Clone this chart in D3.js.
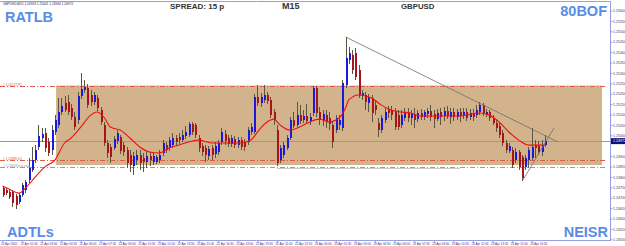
<!DOCTYPE html>
<html><head><meta charset="utf-8">
<script src="https://cdn.jsdelivr.net/npm/d3@7"></script>
<style>body{margin:0;background:#fff;overflow:hidden}svg{display:block}</style>
</head><body><svg id="c" width="625" height="246"></svg>
<script>
// ---- data (GBPUSD M15) : [open, high, low, close]
const candles = [
[1.24746,1.24756,1.24703,1.24713],[1.24737,1.24746,1.24713,1.24722],[1.24727,1.24737,1.24694,1.24703],[1.24727,1.24737,1.24655,1.24674],
[1.24708,1.24718,1.24645,1.24665],[1.24679,1.24722,1.24670,1.24713],[1.24713,1.24771,1.24703,1.24761],[1.24737,1.24785,1.24722,1.24775],
[1.24785,1.24891,1.24771,1.24843],[1.24833,1.24944,1.24823,1.24881],[1.24881,1.24953,1.24867,1.24929],[1.24944,1.25049,1.24929,1.24997],
[1.24987,1.25035,1.24968,1.25006],[1.25011,1.25035,1.24920,1.24939],[1.24968,1.24987,1.24901,1.24915],[1.24929,1.25049,1.24905,1.25025],
[1.25016,1.25097,1.25001,1.25073],[1.25049,1.25179,1.25035,1.25112],[1.25112,1.25179,1.25097,1.25140],[1.25155,1.25189,1.25112,1.25121],
[1.25160,1.25194,1.25097,1.25112],[1.25131,1.25150,1.25073,1.25088],[1.25088,1.25112,1.25025,1.25040],[1.25073,1.25208,1.25054,1.25189],
[1.25189,1.25300,1.25174,1.25222],[1.25218,1.25266,1.25203,1.25232],[1.25227,1.25246,1.25131,1.25145],[1.25194,1.25218,1.25140,1.25160],
[1.25160,1.25208,1.25145,1.25194],[1.25179,1.25194,1.25116,1.25131],[1.25121,1.25136,1.25049,1.25064],[1.25049,1.25064,1.24948,1.24963],
[1.24963,1.24977,1.24891,1.24915],[1.24944,1.24958,1.24867,1.24896],[1.24939,1.24997,1.24929,1.24982],[1.24972,1.25025,1.24958,1.25011],
[1.24992,1.25001,1.24910,1.24925],[1.24953,1.24968,1.24901,1.24920],[1.24929,1.24944,1.24843,1.24867],[1.24905,1.24929,1.24823,1.24857],
[1.24852,1.24920,1.24809,1.24901],[1.24881,1.24929,1.24857,1.24905],[1.24905,1.24929,1.24833,1.24867],[1.24891,1.24915,1.24823,1.24872],
[1.24872,1.24920,1.24843,1.24901],[1.24901,1.24920,1.24852,1.24881],[1.24872,1.24915,1.24857,1.24901],[1.24872,1.24905,1.24862,1.24896],
[1.24881,1.24929,1.24867,1.24905],[1.24915,1.24977,1.24901,1.24963],[1.24953,1.24968,1.24915,1.24929],[1.24939,1.24992,1.24925,1.24977],
[1.24953,1.25011,1.24939,1.24987],[1.24987,1.25001,1.24948,1.24968],[1.24992,1.25011,1.24958,1.24977],[1.24977,1.25025,1.24968,1.25001],
[1.24997,1.25045,1.24982,1.25016],[1.25001,1.25064,1.24992,1.25054],[1.25054,1.25064,1.25001,1.25016],[1.25049,1.25059,1.24987,1.25001],
[1.24987,1.25001,1.24920,1.24939],[1.24948,1.24963,1.24901,1.24920],[1.24939,1.24953,1.24872,1.24905],[1.24901,1.24948,1.24881,1.24934],
[1.24939,1.24953,1.24881,1.24905],[1.24910,1.24968,1.24891,1.24948],[1.24920,1.24977,1.24905,1.24963],[1.24968,1.25035,1.24953,1.25016],
[1.25006,1.25025,1.24953,1.24972],[1.24987,1.25001,1.24944,1.24958],[1.24958,1.25001,1.24944,1.24987],[1.24982,1.24997,1.24939,1.24953],
[1.24953,1.24992,1.24939,1.24977],[1.24977,1.24992,1.24929,1.24944],[1.24968,1.24982,1.24925,1.24944],[1.24968,1.25040,1.24953,1.25025],
[1.25016,1.25059,1.25001,1.25040],[1.25016,1.25199,1.25006,1.25184],[1.25184,1.25242,1.25140,1.25155],[1.25155,1.25203,1.25136,1.25184],
[1.25170,1.25242,1.25155,1.25194],[1.25194,1.25208,1.25150,1.25165],[1.25170,1.25184,1.25083,1.25097],[1.25112,1.25126,1.25049,1.25073],
[1.25025,1.25049,1.24852,1.24867],[1.24881,1.24953,1.24867,1.24939],[1.24905,1.24968,1.24891,1.24953],[1.24939,1.25001,1.24929,1.24987],
[1.24987,1.25088,1.24977,1.25073],[1.25073,1.25112,1.25035,1.25045],[1.25049,1.25160,1.25040,1.25097],[1.25097,1.25145,1.25054,1.25069],
[1.25073,1.25121,1.25059,1.25093],[1.25093,1.25150,1.25054,1.25069],[1.25069,1.25107,1.25049,1.25088],[1.25107,1.25237,1.25093,1.25227],
[1.25227,1.25237,1.25088,1.25107],[1.25112,1.25136,1.25049,1.25073],[1.25069,1.25121,1.25045,1.25102],[1.25097,1.25121,1.25035,1.25064],
[1.25083,1.25112,1.25025,1.25054],[1.25049,1.25069,1.24939,1.24968],[1.25025,1.25097,1.25011,1.25083],[1.25049,1.25097,1.25025,1.25073],
[1.25035,1.25266,1.25021,1.25251],[1.25242,1.25473,1.25227,1.25371],[1.25362,1.25425,1.25343,1.25395],[1.25386,1.25410,1.25295,1.25314],
[1.25395,1.25420,1.25266,1.25280],[1.25314,1.25338,1.25179,1.25194],[1.25189,1.25218,1.25170,1.25203],[1.25194,1.25208,1.25121,1.25160],
[1.25155,1.25199,1.25112,1.25184],[1.25179,1.25194,1.25064,1.25107],[1.25145,1.25170,1.25097,1.25121],[1.25059,1.25083,1.24992,1.25025],
[1.25025,1.25097,1.25011,1.25083],[1.25073,1.25131,1.25059,1.25112],[1.25121,1.25140,1.25083,1.25107],[1.25121,1.25140,1.25073,1.25097],
[1.25112,1.25131,1.25025,1.25040],[1.25097,1.25121,1.25025,1.25040],[1.25049,1.25121,1.25035,1.25097],[1.25083,1.25131,1.25069,1.25107],
[1.25107,1.25131,1.25064,1.25083],[1.25083,1.25121,1.25049,1.25102],[1.25102,1.25131,1.25035,1.25073],[1.25078,1.25121,1.25064,1.25107],
[1.25107,1.25126,1.25073,1.25088],[1.25088,1.25121,1.25073,1.25112],[1.25102,1.25131,1.25083,1.25116],[1.25116,1.25145,1.25069,1.25088],
[1.25102,1.25121,1.25035,1.25078],[1.25078,1.25126,1.25069,1.25107],[1.25112,1.25131,1.25049,1.25088],[1.25093,1.25136,1.25069,1.25116],
[1.25116,1.25140,1.25078,1.25093],[1.25088,1.25131,1.25054,1.25112],[1.25112,1.25131,1.25069,1.25088],[1.25088,1.25126,1.25073,1.25112],
[1.25112,1.25131,1.25064,1.25093],[1.25093,1.25131,1.25078,1.25112],[1.25112,1.25131,1.25069,1.25083],[1.25088,1.25126,1.25073,1.25107],
[1.25107,1.25126,1.25069,1.25088],[1.25097,1.25145,1.25083,1.25121],[1.25112,1.25160,1.25097,1.25145],[1.25145,1.25155,1.25093,1.25107],
[1.25102,1.25126,1.25088,1.25112],[1.25112,1.25121,1.25069,1.25083],[1.25083,1.25097,1.25049,1.25059],[1.25059,1.25073,1.25016,1.25035],
[1.25045,1.25059,1.24987,1.25001],[1.25011,1.25025,1.24948,1.24963],[1.24963,1.24977,1.24915,1.24929],[1.24925,1.24963,1.24915,1.24948],
[1.24929,1.24944,1.24843,1.24857],[1.24881,1.24939,1.24867,1.24920],[1.24920,1.24929,1.24833,1.24848],[1.24896,1.24905,1.24780,1.24795],
[1.24848,1.24905,1.24833,1.24891],[1.24881,1.24944,1.24843,1.24929],[1.24891,1.25035,1.24881,1.24944],[1.24953,1.24977,1.24891,1.24939],
[1.24948,1.24972,1.24905,1.24920],[1.24920,1.24977,1.24901,1.24953],[1.24953,1.25001,1.24944,1.24972]
];
// moving average read at selected bars
const maBars = [0,2,5,7,10,13,16,19,21,24,27,29,31,33,36,39,42,45,48,51,54,57,60,64,67,73,76,79,82,83,85,88,91,94,97,100,103,105,106,109,113,116,119,122,125,128,134,140,146,149,152,155,158,161,163,166];
const maValues = [1.24756,1.24742,1.24722,1.24746,1.24799,1.24848,1.24881,1.24963,1.24987,1.25040,1.25097,1.25112,1.25088,1.25040,1.25025,1.24987,1.24944,1.24920,1.24915,1.24939,1.24953,1.24968,1.24977,1.24963,1.24963,1.24963,1.24977,1.25035,1.25073,1.25078,1.25049,1.25025,1.25040,1.25064,1.25078,1.25064,1.25083,1.25131,1.25170,1.25194,1.25179,1.25145,1.25121,1.25112,1.25107,1.25093,1.25093,1.25093,1.25107,1.25097,1.25064,1.25016,1.24977,1.24953,1.24953,1.24953];
const priceTicks = [1.2560,1.2555,1.2550,1.2545,1.2540,1.2535,1.2530,1.2525,1.2520,1.2515,1.2510,1.2505,1.2500,1.2490,1.2485,1.2480,1.2475,1.2470,1.2465,1.2460,1.2455,1.2450];
const timeBars = [0,6,12,18,24,30,36,42,48,54,60,66,72,78,84,90,96,102,108,114,120,126,132,138,144,150,156,162];
const timeLabels = ["22 Apr 2020","22 Apr 01:30","22 Apr 03:00","22 Apr 04:30","22 Apr 06:00","22 Apr 07:30","22 Apr 09:00","22 Apr 10:30","22 Apr 12:00","22 Apr 13:30","22 Apr 15:00","22 Apr 16:30","22 Apr 18:00","22 Apr 19:30","22 Apr 21:00","22 Apr 22:30","23 Apr 00:00","23 Apr 01:30","23 Apr 03:00","23 Apr 04:30","23 Apr 06:00","23 Apr 07:30","23 Apr 09:00","23 Apr 10:30","23 Apr 12:00","23 Apr 13:30","23 Apr 15:00","23 Apr 16:30"];
const zoneBars = [16.4, 183.5];
const zonePrices = [1.25239, 1.24857];
const levelPrices = [1.25237, 1.24880, 1.24848];
const levelColors = ["#e05a4a", "#e05a4a", "#9a9a9a"];
const levelTexts = ["# 1.25237 R1", "# 1.24880 S1", "# 1.24848 buy stop"];
const trendA = [[105, 1.25473], [170, 1.24968]];
const trendB = [[159.3, 1.24785], [168.8, 1.25035]];
const lastPrice = 1.24972;
const headerText = "GBPUSD,M15  1.24953 1.25001 1.24944 1.24972";

// ---- drawing
const svg = d3.select('#c');
const W = 625, H = 246, axisX = 610, axisY = 240;
const x = d3.scaleLinear().domain([0, 166]).range([2.5, 2.5 + 166 * 3.267]);
const y = d3.scaleLinear().domain([1.2450, 1.2560]).range([239.3, 10.5]);

svg.append('rect').attr('width', W).attr('height', H).attr('fill', '#fff');
svg.append('defs').append('clipPath').attr('id', 'pl').append('rect')
  .attr('x', 0).attr('y', 2).attr('width', axisX).attr('height', axisY - 2);
const plot = svg.append('g').attr('clip-path', 'url(#pl)');

// zone
plot.append('rect')
  .attr('x', x(zoneBars[0])).attr('y', y(zonePrices[0]))
  .attr('width', x(zoneBars[1]) - x(zoneBars[0]))
  .attr('height', y(zonePrices[1]) - y(zonePrices[0]))
  .attr('fill', '#d3b38b');

// current price line
plot.append('line').attr('x1', 0).attr('x2', axisX)
  .attr('y1', Math.round(y(lastPrice)) + 0.5).attr('y2', Math.round(y(lastPrice)) + 0.5)
  .attr('stroke', '#a09888').attr('stroke-width', 1);

// levels
levelPrices.forEach((p, k) => {
  const yy = Math.round(y(p)) + 0.5;
  plot.append('line').attr('x1', 0).attr('x2', 606).attr('y1', yy).attr('y2', yy)
    .attr('stroke', levelColors[k]).attr('stroke-width', 1).attr('stroke-dasharray', '5,2,1,2');
  svg.append('text').attr('x', 3).attr('y', yy - 1).text(levelTexts[k])
    .attr('font-family', 'Arial, Liberation Sans, sans-serif').attr('font-size', 3.2)
    .attr('fill', levelColors[k]);
});
plot.append('line').attr('x1', x(84)).attr('x2', x(140))
  .attr('y1', Math.round(y(levelPrices[2])) + 1.5).attr('y2', Math.round(y(levelPrices[2])) + 1.5)
  .attr('stroke', '#c8c8c8').attr('stroke-width', 1);

// candles
const cg = plot.append('g').attr('shape-rendering', 'crispEdges');
candles.forEach((c, i) => {
  const [o, h, l, cl] = c;
  const cx = Math.round(x(i));
  cg.append('line').attr('x1', cx + 0.5).attr('x2', cx + 0.5)
    .attr('y1', y(h)).attr('y2', y(l)).attr('stroke', '#5b5640').attr('stroke-width', 1);
  const top = y(Math.max(o, cl)), bot = y(Math.min(o, cl));
  const up = cl >= o;
  cg.append('rect').attr('x', cx - 0.5).attr('width', 2)
    .attr('y', top).attr('height', Math.max(1, bot - top))
    .attr('fill', up ? '#1a1adb' : '#a5161a');
});

// moving average
plot.append('path')
  .datum(maBars.map((b, k) => [b, maValues[k]]))
  .attr('d', d3.line().x(d => x(d[0])).y(d => y(d[1])).curve(d3.curveMonotoneX))
  .attr('fill', 'none').attr('stroke', '#f01010').attr('stroke-width', 1.1);

// trendlines
[trendA, trendB].forEach(t => {
  plot.append('line').attr('x1', x(t[0][0])).attr('y1', y(t[0][1]))
    .attr('x2', x(t[1][0])).attr('y2', y(t[1][1]))
    .attr('stroke', '#6e6e6e').attr('stroke-width', 0.8);
});

// frame
const frameCol = '#9c9ce0';
svg.append('line').attr('x1', 0).attr('x2', axisX).attr('y1', 1.5).attr('y2', 1.5).attr('stroke', frameCol);

// right axis
const ya = svg.append('g').attr('transform', `translate(${axisX + 0.5},0)`)
  .call(d3.axisRight(y).tickValues(priceTicks).tickSize(2).tickFormat(d3.format('.5f')));
ya.select('.domain').attr('stroke', frameCol).attr('d', `M0,1V${axisY + 1}`);
ya.selectAll('.tick line').attr('stroke', frameCol);
ya.selectAll('.tick text').attr('font-size', 3.6).attr('fill', '#3a3a70')
  .attr('font-family', 'Arial, Liberation Sans, sans-serif').attr('x', 2.5);

// bottom axis
const xa = svg.append('g').attr('transform', `translate(0,${axisY + 0.5})`)
  .call(d3.axisBottom(x).tickValues(timeBars).tickSize(2).tickFormat((d, k) => timeLabels[k]));
xa.select('.domain').attr('stroke', frameCol).attr('d', `M0,0H${axisX}`);
xa.selectAll('.tick line').attr('stroke', frameCol);
xa.selectAll('.tick text').attr('font-size', 3).attr('fill', '#3a3a70')
  .attr('font-family', 'Arial, Liberation Sans, sans-serif')
  .attr('text-anchor', 'start').attr('dx', -2).attr('y', 2).attr('dy', '0.75em');

// current price label
const ly = y(lastPrice);
svg.append('rect').attr('x', axisX + 1).attr('y', ly - 3).attr('width', W - axisX - 1).attr('height', 6).attr('fill', '#10107a');
svg.append('text').attr('x', axisX + 3).attr('y', ly + 1.3).text(d3.format('.5f')(lastPrice))
  .attr('font-size', 3.6).attr('fill', '#fff').attr('font-family', 'Arial, Liberation Sans, sans-serif');

// texts
const F = 'Arial, Liberation Sans, sans-serif';
svg.append('text').attr('x', 3).attr('y', 5).text(headerText).attr('font-size', 3.2).attr('fill', '#1a1a60').attr('font-family', F);
const big = [["RATLB", 5, 22, 'start'], ["80BOF", 607, 15.5, 'end'], ["ADTLs", 7, 237, 'start'], ["NEISR", 608, 237, 'end']];
big.forEach(b => svg.append('text').attr('x', b[1]).attr('y', b[2]).text(b[0])
  .attr('text-anchor', b[3]).attr('font-family', F).attr('font-weight', 'bold')
  .attr('font-size', 14.5).attr('fill', '#5a8be6'));
svg.append('text').attr('x', 170).attr('y', 8.5).text('SPREAD: 15 p').attr('font-family', F).attr('font-weight', 'bold').attr('font-size', 8).attr('fill', '#333');
svg.append('text').attr('x', 282).attr('y', 9).text('M15').attr('font-family', F).attr('font-weight', 'bold').attr('font-size', 9).attr('fill', '#333');
svg.append('text').attr('x', 401).attr('y', 8.5).text('GBPUSD').attr('font-family', F).attr('font-weight', 'bold').attr('font-size', 7.8).attr('fill', '#333');
</script></body></html>
